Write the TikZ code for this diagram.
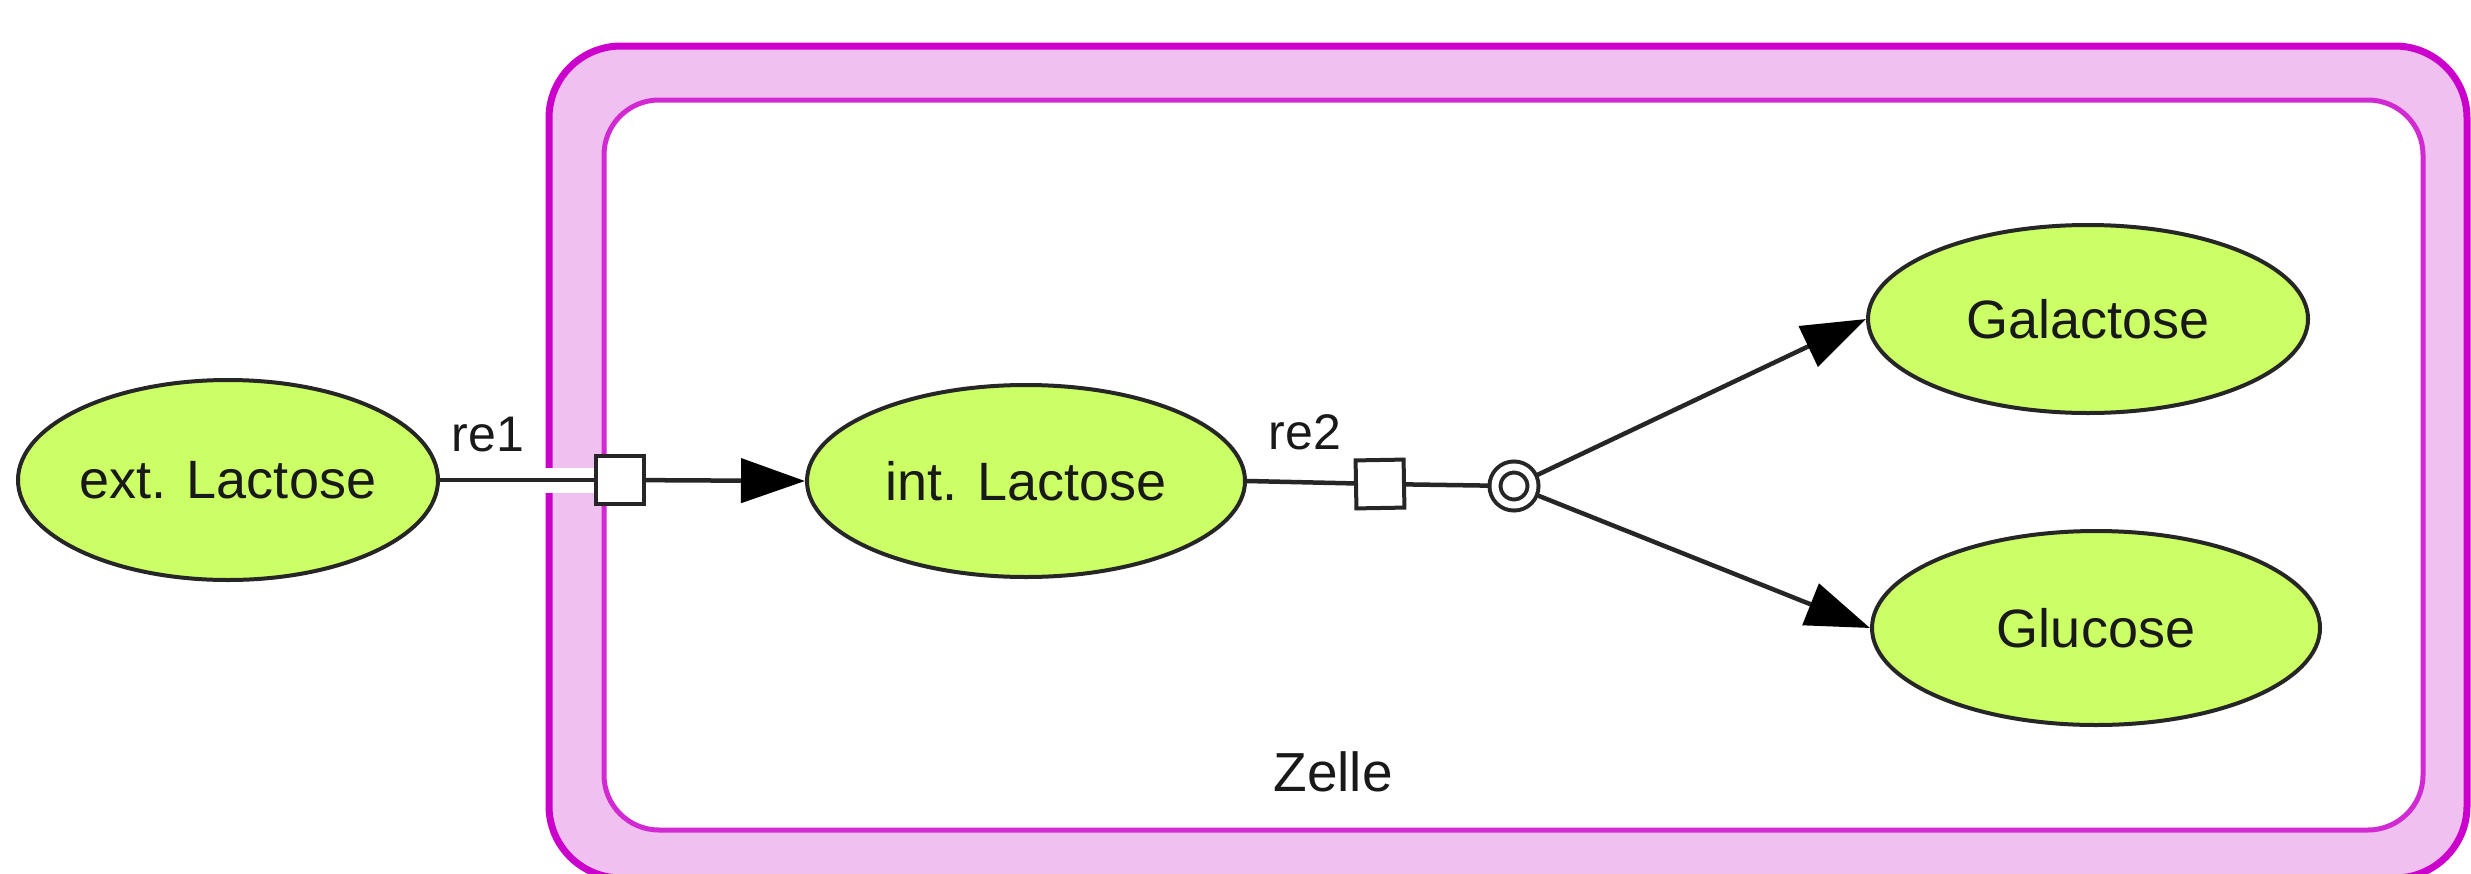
\documentclass[tikz,border=0pt]{standalone}
\usepackage{fontspec}
\setmainfont{Liberation Sans}
\usetikzlibrary{shapes.geometric,arrows.meta}
\definecolor{spec}{HTML}{CCFF66}
\definecolor{band}{HTML}{F0C0F0}
\definecolor{mag}{HTML}{CC00CC}
\definecolor{magtwo}{HTML}{D22AD2}
\definecolor{ink}{HTML}{262626}
\begin{document}
\begin{tikzpicture}[x=1pt,y=-1pt,
  species/.style={ellipse, draw=ink, line width=4pt, fill=spec, inner sep=0pt,
    font=\fontsize{54}{60}\selectfont, text=black!90},
  procbox/.style={rectangle, draw=ink, line width=4pt, fill=white, minimum size=48pt, inner sep=0pt},
  assoc/.style={circle, draw=ink, line width=4pt, double=white, double distance=7pt,
    fill=white, minimum size=38pt, inner sep=0pt, outer sep=7pt},
  conn/.style={draw=ink, line width=4.5pt},
  arr/.style={conn, -{Triangle[length=64pt,width=44pt,fill=black,color=black]}},
  halo/.style={draw=white, line width=25pt},
  lbl/.style={font=\fontsize{50}{56}\selectfont, text=black!90, inner sep=0pt},
  compout/.style={draw=mag, line width=7pt, fill=band, rounded corners=72pt},
  compin/.style={draw=magtwo, line width=5pt, fill=white, rounded corners=55pt},
]
\useasboundingbox (0,0) rectangle (2471,873);
\clip (0,0) rectangle (2471,873);
\fill[white] (0,0) rectangle (2471,873);
% compartment
\path[compout] (549,46) rectangle (2467,878);
\path[compin] (604,100) rectangle (2423,830);
\node[lbl, font=\fontsize{55}{60}\selectfont] (zelle) at (1333,772) {Zelle};
% species
\node[species, minimum width=420pt, minimum height=200pt] (ext) at (228,480) {ext. Lactose};
\node[species, minimum width=438pt, minimum height=192pt] (int) at (1026,481) {int. Lactose};
\node[species, minimum width=440pt, minimum height=188pt] (gal) at (2088,319) {Galactose};
\node[species, minimum width=448pt, minimum height=194pt] (glc) at (2096,628) {Glucose};
% reactions
\node[procbox] (re1) at (620,480) {};
\node[procbox, rotate=1] (re2) at (1380,484) {};
\node[assoc] (as) at (1514,486) {};
\node[lbl] (re1l) at (488,435) {re1};
\node[lbl] (re2l) at (1305,432) {re2};
% connectors
\path[halo] (ext) -- (re1);
\path[conn] (ext) -- (re1);
\path[arr] (re1) -- (int.west);
\path[conn] (int.east) -- (re2);
\path[conn] (re2) -- (as);
\path[arr] (as) -- (gal.west);
\path[arr] (as) -- (glc.west);
\end{tikzpicture}
\end{document}
